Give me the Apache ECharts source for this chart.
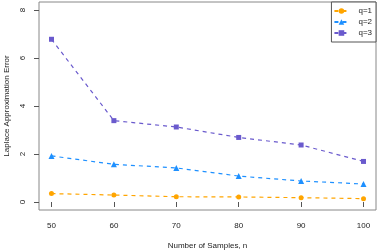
<!DOCTYPE html>
<html><head><meta charset="utf-8">
<script src="https://cdn.jsdelivr.net/npm/echarts@6/dist/echarts.min.js"></script>
<style>html,body{margin:0;padding:0;background:#fff}#c{width:382px;height:252px}</style>
</head><body><div id="c"></div>
<script>
const samples = [50, 60, 70, 80, 90, 100];
const q1 = [0.35, 0.29, 0.22, 0.21, 0.18, 0.14];
const q2 = [1.92, 1.57, 1.42, 1.08, 0.875, 0.75];
const q3 = [6.78, 3.39, 3.125, 2.69, 2.375, 1.69];
const xTicks = [50, 60, 70, 80, 90, 100];
const yTicks = [0, 2, 4, 6, 8];
const names = ['q=1', 'q=2', 'q=3'];
const colors = ['#FFA500', '#1E90FF', '#6A5ACD'];
const symbols = ['circle', 'triangle', 'rect'];
const sizes = [5, 6, 5];
const font = 'Liberation Sans, Arial, sans-serif';
const chart = echarts.init(document.getElementById('c'));
const pair = arr => samples.map((x, i) => [x, arr[i]]);
chart.setOption({
  animation: false,
  grid: {left: 39, top: 2, right: 6, bottom: 42, show: true, borderColor: '#888', borderWidth: 1, backgroundColor: 'transparent', containLabel: false, outerBoundsMode: 'none'},
  xAxis: {
    type: 'value', min: 48, max: 102,
    name: 'Number of Samples, n', nameLocation: 'middle', nameGap: 32,
    nameTextStyle: {fontFamily: font, fontSize: 8, color: '#222'},
    axisLine: {show: false},
    splitLine: {show: false},
    axisTick: {show: true, length: 5, lineStyle: {color: '#555'}, customValues: xTicks},
    axisLabel: {fontFamily: font, fontSize: 8, color: '#222', margin: 12, customValues: xTicks}
  },
  yAxis: {
    type: 'value', min: -1/3, max: 25/3,
    name: 'Laplace Approximation Error', nameLocation: 'middle', nameGap: 28,
    nameTextStyle: {fontFamily: font, fontSize: 8, color: '#222'},
    axisLine: {show: false},
    splitLine: {show: false},
    axisTick: {show: true, length: 5, lineStyle: {color: '#555'}, customValues: yTicks},
    axisLabel: {fontFamily: font, fontSize: 8, color: '#222', margin: 12, rotate: 90, customValues: yTicks, align: 'center', verticalAlign: 'bottom'}
  },
  legend: {
    orient: 'vertical', right: 6, top: 2,
    data: names,
    itemWidth: 14, itemHeight: 7, itemGap: 3,
    padding: [5, 4, 5, 2],
    borderColor: '#555', borderWidth: 1, borderRadius: 0,
    backgroundColor: '#fff',
    textStyle: {fontFamily: font, fontSize: 8, color: '#222', padding: [0, 0, 0, 5]}
  },
  series: names.map((n, i) => ({
    name: n, type: 'line',
    data: pair([q1, q2, q3][i]),
    symbol: symbols[i], symbolSize: sizes[i],
    lineStyle: {color: colors[i], width: 1.2, type: [4, 4]},
    itemStyle: {color: colors[i]},
    z: 3
  }))
});
</script></body></html>
